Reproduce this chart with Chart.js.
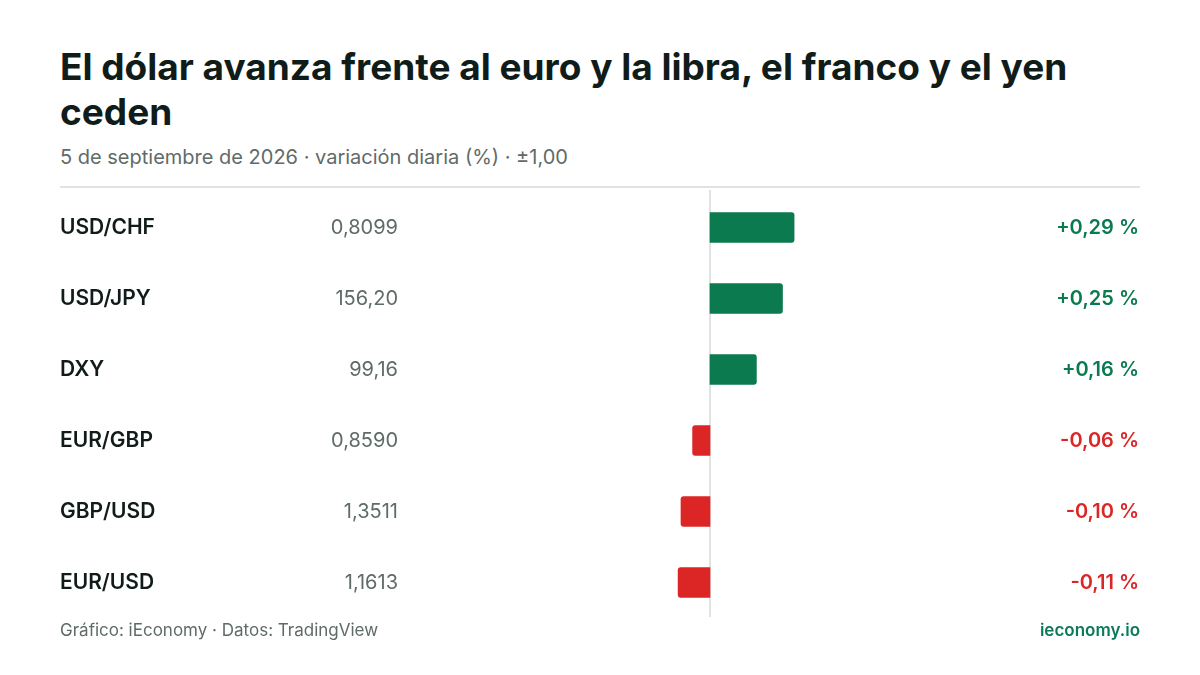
<!DOCTYPE html>
<html>
<head>
<meta charset="utf-8">
<script src="https://cdn.jsdelivr.net/npm/chart.js@4"></script>
<style>
  html, body { margin:0; padding:0; background:#fff; }
  body { width:1200px; height:675px; position:relative; overflow:hidden; font-family: Inter, "Noto Sans", sans-serif; }
  #title { position:absolute; left:60px; top:44px; width:1090px; font-size:37px; font-weight:700; line-height:45px; color:#0f1c1a; margin:0; }
  #sub { position:absolute; left:60px; top:145px; font-size:20px; color:#5f6b68; }
  #rule { position:absolute; left:60px; top:186px; width:1080px; height:2px; background:#dfe3e2; }
  #src { position:absolute; left:60px; top:620px; font-size:17px; color:#5f6b68; }
  #brand { position:absolute; right:60px; top:620px; font-size:17px; font-weight:600; color:#0b7a5a; }
  #wrap { position:absolute; left:0; top:0; width:1200px; height:675px; }
</style>
</head>
<body>
<h1 id="title">El dólar avanza frente al euro y la libra, el franco y el yen ceden</h1>
<div id="sub">5 de septiembre de 2026 · variación diaria (%) · ±1,00</div>
<div id="rule"></div>
<div id="wrap"><canvas id="c" width="1200" height="675"></canvas></div>
<div id="src">Gráfico: iEconomy · Datos: TradingView</div>
<div id="brand">ieconomy.io</div>
<script>
const pairs = ["USD/CHF", "USD/JPY", "DXY", "EUR/GBP", "GBP/USD", "EUR/USD"];
const prices = ["0,8099", "156,20", "99,16", "0,8590", "1,3511", "1,1613"];
const changes = [0.29, 0.25, 0.16, -0.06, -0.10, -0.11];
const changeLabels = ["+0,29 %", "+0,25 %", "+0,16 %", "-0,06 %", "-0,10 %", "-0,11 %"];

const GREEN = "#0b7a4f", RED = "#dc2626";
const font = 'Inter, "Noto Sans", sans-serif';

const rowText = {
  id: "rowText",
  beforeDatasetsDraw(chart) {
    const ctx = chart.ctx, x = chart.scales.x, area = chart.chartArea;
    const x0 = x.getPixelForValue(0);
    ctx.save();
    ctx.strokeStyle = "#dfe3e2";
    ctx.lineWidth = 2;
    ctx.beginPath();
    ctx.moveTo(x0, area.top - 2);
    ctx.lineTo(x0, area.bottom - 1);
    ctx.stroke();
    ctx.restore();
  },
  afterDatasetsDraw(chart) {
    const ctx = chart.ctx, y = chart.scales.y;
    ctx.save();
    ctx.textBaseline = "middle";
    pairs.forEach((p, i) => {
      const yy = y.getPixelForValue(i);
      ctx.font = "600 21px " + font;
      ctx.fillStyle = "#111c1a";
      ctx.textAlign = "left";
      ctx.fillText(p, 60, yy);
      ctx.font = "400 20px " + font;
      ctx.fillStyle = "#5f6b68";
      ctx.textAlign = "right";
      ctx.fillText(prices[i], 398, yy);
      ctx.font = "600 20px " + font;
      ctx.fillStyle = changes[i] >= 0 ? GREEN : RED;
      ctx.fillText(changeLabels[i], 1139, yy);
    });
    ctx.restore();
  }
};

new Chart(document.getElementById("c"), {
  type: "bar",
  data: {
    labels: pairs,
    datasets: [{
      data: changes,
      backgroundColor: changes.map(v => v >= 0 ? GREEN : RED),
      barThickness: 30,
      borderRadius: 3,
      borderSkipped: "start"
    }]
  },
  options: {
    indexAxis: "y",
    responsive: false,
    animation: false,
    devicePixelRatio: 1,
    layout: { padding: { left: 420, right: 200, top: 192, bottom: 57 } },
    plugins: { legend: { display: false }, tooltip: { enabled: false }, title: { display: false } },
    scales: {
      x: { display: false, min: -1, max: 1 },
      y: { display: false, offset: true }
    }
  },
  plugins: [rowText]
});
</script>
</body>
</html>
